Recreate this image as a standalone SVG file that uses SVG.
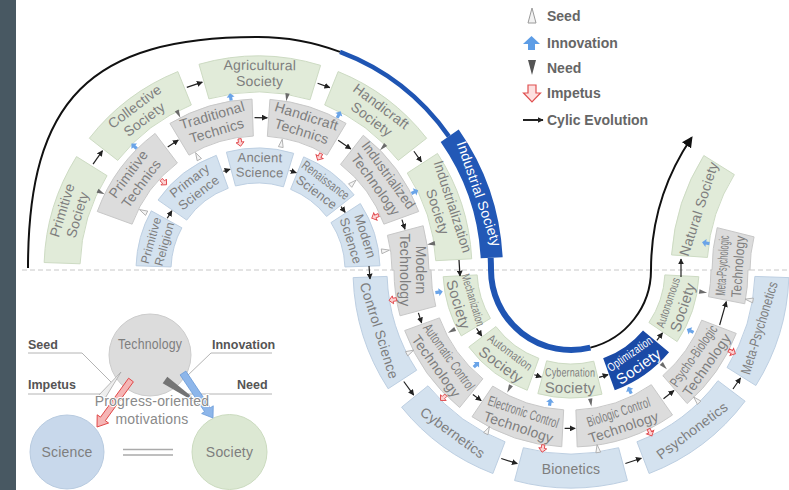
<svg xmlns="http://www.w3.org/2000/svg" width="789" height="490" viewBox="0 0 789 490">
<style>
.soc{fill:#e1ebd9;stroke:#cddbc3;stroke-width:1}
.tec{fill:#dcdcdc;stroke:#c8c8c8;stroke-width:1}
.sci{fill:#d4e2ef;stroke:#bdcfe2;stroke-width:1}
.t{font-family:"Liberation Sans",Arial,sans-serif;font-size:14px;fill:#7e7e7e;text-anchor:middle;letter-spacing:0.2px}
.s12{font-size:12px}
.s13{font-size:13px}
.s15{font-size:15px}
.w{fill:#ffffff}
.cy{fill:none;stroke:#222;stroke-width:1.2;marker-end:url(#ah)}
.lg{font-family:"Liberation Sans",Arial,sans-serif;font-size:14px;font-weight:bold;fill:#666}
.lb{font-family:"Liberation Sans",Arial,sans-serif;font-size:12.5px;font-weight:bold;fill:#555}
.ld{fill:none;stroke:#b4b4b4;stroke-width:1}
</style>
<defs>
<marker id="ah" viewBox="0 0 10 10" refX="9" refY="5" markerWidth="6" markerHeight="6" markerUnits="userSpaceOnUse" orient="auto"><path d="M0,0 L10,5 L0,10 Z" fill="#222"/></marker>
<marker id="ahb" viewBox="0 0 10 10" refX="8" refY="5" markerWidth="11" markerHeight="11" markerUnits="userSpaceOnUse" orient="auto"><path d="M0,0 L10,5 L0,10 Z" fill="#111"/></marker>
<path id="innov" d="M0,-4 L4,0 L1.6,0 L1.6,3.5 L-1.6,3.5 L-1.6,0 L-4,0 Z" fill="#6aa4e8"/>
<path id="imp" d="M0,4 L4,0 L1.6,0 L1.6,-3.5 L-1.6,-3.5 L-1.6,0 L-4,0 Z" fill="#fbd3d3" stroke="#e0474c" stroke-width="0.9"/>
<path id="need" d="M-2.2,-4 L2.2,-4 L0,4 Z" fill="#6b6b6b"/>
<path id="seed" d="M0,-4 L2.4,4 L-2.4,4 Z" fill="#f4f4f4" stroke="#a8a8a8" stroke-width="0.8"/>
</defs>
<rect width="789" height="490" fill="#ffffff"/>
<rect x="0" y="0" width="16" height="490" fill="#485862"/>
<line x1="22" y1="270" x2="789" y2="270" stroke="#c8c8c8" stroke-width="1" stroke-dasharray="5 3"/>

<!-- Society (upper) -->
<g id="primitive-society"><path class="soc" d="M44.13,262.53 A214,214 0 0 1 76.52,156.60 L107.05,175.67 A178,178 0 0 0 80.11,263.79 Z"/>
<g transform="translate(70.57,212.70) rotate(-73)"><text class="t" y="-4">Primitive</text><text class="t" y="12">Society</text></g></g>
<g id="collective-society"><path class="soc" d="M89.37,138.25 A214,214 0 0 1 177.83,71.58 L191.32,104.96 A178,178 0 0 0 117.73,160.41 Z"/>
<g transform="translate(140.04,113.47) rotate(-37)"><text class="t" y="-4">Collective</text><text class="t" y="12">Society</text></g></g>
<g id="agricultural-society"><path class="soc" d="M199.01,64.29 A214,214 0 0 1 320.57,65.35 L310.04,99.78 A178,178 0 0 0 208.94,98.90 Z"/>
<g transform="translate(259.71,74) rotate(0.5)"><text class="t" y="-4">Agricultural</text><text class="t" y="12">Society</text></g></g>
<g id="handicraft-society"><path class="soc" d="M338.17,71.58 A214,214 0 0 1 426.63,138.25 L398.27,160.41 A178,178 0 0 0 324.68,104.96 Z"/>
<g transform="translate(375.96,113.47) rotate(37)"><text class="t" y="-4">Handicraft</text><text class="t" y="12">Society</text></g></g>
<g id="industrialization-society"><path class="soc" d="M437.48,153.45 A214,214 0 0 1 471.71,258.80 L435.76,260.68 A178,178 0 0 0 407.28,173.05 Z"/>
<g transform="translate(444.41,209.43) rotate(72)"><text class="t" y="-4" textLength="96" lengthAdjust="spacingAndGlyphs">Industrialization</text><text class="t" y="12">Society</text></g></g>

<!-- Technics (upper) -->
<g id="primitive-technics"><path class="tec" d="M97.31,211.51 A171,171 0 0 1 155.09,133.43 L177.36,162.98 A134,134 0 0 0 132.08,224.17 Z"/>
<g transform="translate(135.41,179.29) rotate(-53.5)"><text class="t" y="-4">Primitive</text><text class="t" y="12">Technics</text></g></g>
<g id="traditional-technics"><path class="tec" d="M169.93,123.42 A171,171 0 0 1 252.03,99.10 L253.32,136.08 A134,134 0 0 0 188.99,155.14 Z"/>
<g transform="translate(214.69,123.78) rotate(-16.5)"><text class="t" y="-4">Traditional</text><text class="t" y="12">Technics</text></g></g>
<g id="handicraft-technics"><path class="tec" d="M269.93,99.42 A171,171 0 0 1 346.07,123.42 L327.01,155.14 A134,134 0 0 0 267.35,136.33 Z"/>
<g transform="translate(303.86,124.56) rotate(17.5)"><text class="t" y="-4">Handicraft</text><text class="t" y="12">Technics</text></g></g>
<g id="industrialized-technology"><path class="tec" d="M363.28,135.25 A171,171 0 0 1 418.69,211.51 L383.92,224.17 A134,134 0 0 0 340.50,164.41 Z"/>
<g transform="translate(381.38,180.36) rotate(54)"><text class="t" y="-4" textLength="80" lengthAdjust="spacingAndGlyphs">Industrialized</text><text class="t" y="12">Technology</text></g></g>
<g id="modern-technology"><path class="tec" d="M423.17,225.74 A171,171 0 0 1 429,270 L431,270 A140,140 0 0 0 435.77,306.23 L400.03,315.81 A177,177 0 0 1 394,270 L392,270 A134,134 0 0 0 387.43,235.32 Z"/>
<g transform="translate(411.5,270) rotate(90)"><text class="t" y="-4">Modern</text><text class="t" y="12">Technology</text></g></g>

<!-- Science (upper) -->
<g id="primitive-religion"><path class="sci" d="M136.07,265.74 A122,122 0 0 1 151.30,210.85 L181.91,227.82 A87,87 0 0 0 171.05,266.96 Z"/>
<g transform="translate(157.30,242.07) rotate(-74.5)"><text class="t s12" y="-2.5">Primitive</text><text class="t s12" y="11.5">Religion</text></g></g>
<g id="primary-science"><path class="sci" d="M158.06,200.02 A122,122 0 0 1 216.27,155.36 L228.24,188.25 A87,87 0 0 0 186.73,220.10 Z"/>
<g transform="translate(194.38,187.10) rotate(-37.5)"><text class="t s13" y="-3.5">Primary</text><text class="t s13" y="11.5">Science</text></g></g>
<g id="ancient-science"><path class="sci" d="M226.42,152.16 A122,122 0 0 1 293.67,153.33 L283.44,186.80 A87,87 0 0 0 235.48,185.96 Z"/>
<g transform="translate(259.82,165.52) rotate(1)"><text class="t s13" y="-3.5">Ancient</text><text class="t s13" y="11.5">Science</text></g></g>
<g id="renaissance-science"><path class="sci" d="M303.70,156.88 A122,122 0 0 1 354.14,194.89 L326.56,216.44 A87,87 0 0 0 290.59,189.34 Z"/>
<g transform="translate(320.89,186.54) rotate(37)"><text class="t s13" y="-3.5" textLength="56" lengthAdjust="spacingAndGlyphs">Renaissance</text><text class="t s13" y="11.5">Science</text></g></g>
<g id="modern-science"><path class="sci" d="M360.32,203.55 A122,122 0 0 1 379.93,265.74 L344.95,266.96 A87,87 0 0 0 330.96,222.62 Z"/>
<g transform="translate(357.66,238.58) rotate(72.5)"><text class="t s13" y="-3.5">Modern</text><text class="t s13" y="11.5">Science</text></g></g>

<!-- Industrial Society -->
<g id="industrial-society"><path d="M458.69,129.47 A245,245 0 0 1 502.66,257.18 L480.69,258.33 A223,223 0 0 0 440.67,142.09 Z" fill="#2258b6"/>
<g transform="translate(479.25,193.82) rotate(71)"><text class="t w" y="5">Industrial Society</text></g></g>

<!-- Science (lower) -->
<g id="control-science"><path class="sci" d="M353.13,277.61 A218,218 0 0 0 388.17,388.73 L416.68,370.21 A184,184 0 0 1 387.11,276.42 Z"/>
<g transform="translate(379.30,330.44) rotate(72.5)"><text class="t" y="5" textLength="100" lengthAdjust="spacingAndGlyphs">Control Science</text></g></g>
<g id="cybernetics"><path class="sci" d="M401.58,407.19 A218,218 0 0 0 492.88,473.52 L505.06,441.78 A184,184 0 0 1 428.00,385.79 Z"/>
<g transform="translate(452.85,432.61) rotate(36)"><text class="t" y="5">Cybernetics</text></g></g>
<g id="bionetics"><path class="sci" d="M514.58,480.57 A218,218 0 0 0 627.42,480.57 L618.62,447.73 A184,184 0 0 1 523.38,447.73 Z"/>
<g transform="translate(571,469)"><text class="t" y="5">Bionetics</text></g></g>
<g id="psychonetics"><path class="sci" d="M649.12,473.52 A218,218 0 0 0 745.10,401.20 L717.95,380.73 A184,184 0 0 1 636.94,441.78 Z"/>
<g transform="translate(691.97,430.53) rotate(-37)"><text class="t" y="5">Psychonetics</text></g></g>
<g id="meta-psychonetics"><path class="sci" d="M755.87,385.52 A218,218 0 0 0 788.87,277.61 L754.89,276.42 A184,184 0 0 1 727.04,367.51 Z"/>
<g transform="translate(759.5,328) rotate(-73)"><text class="t" y="4.5" textLength="96" lengthAdjust="spacingAndGlyphs">Meta-Psychonetics</text></g></g>

<!-- Technics (lower) -->
<g id="automatic-control-technology"><path class="tec" d="M404.67,330.54 A177,177 0 0 0 459.61,407.56 L482.90,378.80 A140,140 0 0 1 439.44,317.88 Z"/>
<g transform="translate(441.96,362.04) rotate(54.5)"><text class="t" y="-4" textLength="78" lengthAdjust="spacingAndGlyphs">Automatic Control</text><text class="t" y="12">Technology</text></g></g>
<g id="electronic-control-technology"><path class="tec" d="M472.02,416.74 A177,177 0 0 0 561.74,446.76 L563.67,409.81 A140,140 0 0 1 492.71,386.07 Z"/>
<g transform="translate(520.71,420.31) rotate(18.5)"><text class="t" y="-4" textLength="74" lengthAdjust="spacingAndGlyphs">Electronic Control</text><text class="t" y="12">Technology</text></g></g>
<g id="biologic-control-technology"><path class="tec" d="M577.18,446.89 A177,177 0 0 0 672.52,414.99 L651.30,384.68 A140,140 0 0 1 575.89,409.91 Z"/>
<g transform="translate(621.29,420.31) rotate(-18.5)"><text class="t" y="-4" textLength="66" lengthAdjust="spacingAndGlyphs">Biologic Control</text><text class="t" y="12">Technology</text></g></g>
<g id="psycho-biologic-technology"><path class="tec" d="M687.12,403.58 A177,177 0 0 0 736.24,333.43 L701.70,320.17 A140,140 0 0 1 662.85,375.66 Z"/>
<g transform="translate(700.84,360.91) rotate(-55)"><text class="t" y="-4" textLength="72" lengthAdjust="spacingAndGlyphs">Psycho-Biologic</text><text class="t" y="12">Technology</text></g></g>
<g id="meta-psychologic-technology"><path class="tec" d="M744.75,303.77 A177,177 0 0 0 748,270 L750,270 A137,137 0 0 1 754.07,236.86 L717.20,227.66 A175,175 0 0 0 712,270 L711,270 A140,140 0 0 1 708.43,296.71 Z"/>
<g transform="translate(731,266) rotate(-86)"><text class="t" y="-4" textLength="60" lengthAdjust="spacingAndGlyphs">Meta-Psychologic</text><text class="t" y="12" textLength="62" lengthAdjust="spacingAndGlyphs">Technology</text></g></g>

<!-- Society (lower) -->
<g id="mechanization-society"><path class="soc" d="M443.18,276.70 A128,128 0 0 0 461.28,335.93 L490.43,318.41 A94,94 0 0 1 477.13,274.92 Z"/>
<g transform="translate(464.85,302.45) rotate(73)"><text class="t s12" y="-4.5" textLength="54" lengthAdjust="spacingAndGlyphs">Mechanization</text><text class="t s15" y="12">Society</text></g></g>
<g id="automation-society"><path class="soc" d="M468.77,347.03 A128,128 0 0 0 527.22,390.28 L538.85,358.33 A94,94 0 0 1 495.93,326.57 Z"/>
<g transform="translate(504.97,359.23) rotate(36.5)"><text class="t s12" y="-4.5" textLength="52" lengthAdjust="spacingAndGlyphs">Automation</text><text class="t s15" y="12">Society</text></g></g>
<g id="cybernation-society"><path class="soc" d="M537.87,393.64 A128,128 0 0 0 601.97,394.20 L593.74,361.21 A94,94 0 0 1 546.67,360.80 Z"/>
<g transform="translate(570.03,381) rotate(0.5)"><text class="t s12" y="-4.5" textLength="50" lengthAdjust="spacingAndGlyphs">Cybernation</text><text class="t s15" y="12">Society</text></g></g>
<g id="optimization-society"><path d="M614.78,390.28 A128,128 0 0 0 669.05,352.28 L643.01,330.42 A94,94 0 0 1 603.15,358.33 Z" fill="#1a4aa6"/>
<g transform="translate(634.67,360.93) rotate(-35)"><text class="t s12 w" y="-4.5" textLength="52" lengthAdjust="spacingAndGlyphs">Optimization</text><text class="t s15 w" y="12">Society</text></g></g>
<g id="autonomous-society"><path class="soc" d="M677.12,341.58 A128,128 0 0 0 698.82,276.70 L664.87,274.92 A94,94 0 0 1 648.93,322.56 Z"/>
<g transform="translate(676.26,305.22) rotate(-71.5)"><text class="t s12" y="-4.5" textLength="52" lengthAdjust="spacingAndGlyphs">Autonomous</text><text class="t s15" y="12">Society</text></g></g>
<g id="natural-society"><path class="soc" d="M671.53,254.93 A216,216 0 0 1 703.82,155.54 L734.35,174.61 A180,180 0 0 0 707.44,257.44 Z"/>
<g transform="translate(698.69,208.81) rotate(-72)"><text class="t" y="5">Natural Society</text></g></g>

<!-- Connectors -->
<g id="connectors">
<path d="M28,268 C28,100 90,37 258,37 A233,233 0 0 1 340,51.9" fill="none" stroke="#111" stroke-width="2"/>
<path d="M340,51.9 A233,233 0 0 1 448.86,136.36" fill="none" stroke="#1f55b3" stroke-width="4.5"/>
<path d="M490.68,257.81 A233,233 0 0 1 491,270 A80,80 0 0 0 590.35,347.62" fill="none" stroke="#1f55b3" stroke-width="6"/>
<path d="M590.35,347.62 A80,80 0 0 0 651,270 A236,236 0 0 1 691.35,138.03" fill="none" stroke="#111" stroke-width="2" marker-end="url(#ahb)"/>
<line class="cy" x1="93.06" y1="164.11" x2="102.50" y2="150.68"/>
<line class="cy" x1="186.80" y1="87.39" x2="202.33" y2="82.07"/>
<line class="cy" x1="317.59" y1="83.28" x2="329.83" y2="87.64"/>
<line class="cy" x1="413.91" y1="151.23" x2="421.44" y2="161.82"/>
<line class="cy" x1="459" y1="260" x2="460" y2="276"/>
<line class="cy" x1="167.72" y1="147.10" x2="178.32" y2="139.97"/>
<line class="cy" x1="254.54" y1="117.54" x2="267.31" y2="117.79"/>
<line class="cy" x1="338.13" y1="140.25" x2="350.84" y2="149.01"/>
<line class="cy" x1="401.93" y1="219.60" x2="404.95" y2="229.25"/>
<line class="cy" x1="418.41" y1="312.89" x2="421.59" y2="322.91"/>
<line class="cy" x1="472.84" y1="394.44" x2="481.22" y2="400.62"/>
<line class="cy" x1="564.64" y1="428.37" x2="575.15" y2="428.45"/>
<line class="cy" x1="663.49" y1="398.71" x2="673.94" y2="390.53"/>
<line class="cy" x1="719.66" y1="324.99" x2="726.32" y2="301.60"/>
<line class="cy" x1="167.23" y1="218.22" x2="171.88" y2="210.81"/>
<line class="cy" x1="223.46" y1="171.37" x2="230.07" y2="169.30"/>
<line class="cy" x1="289.77" y1="170.45" x2="296.30" y2="172.77"/>
<line class="cy" x1="341.13" y1="206.67" x2="345.14" y2="212.32"/>
<line class="cy" x1="369" y1="266" x2="370" y2="279"/>
<line class="cy" x1="403.78" y1="381.52" x2="413.70" y2="395.12"/>
<line class="cy" x1="501.27" y1="458.52" x2="517.28" y2="463.69"/>
<line class="cy" x1="625.39" y1="463.50" x2="641.39" y2="458.27"/>
<line class="cy" x1="732.99" y1="388.99" x2="740.52" y2="378.00"/>
<line class="cy" x1="476.56" y1="328.33" x2="481.77" y2="336.03"/>
<line class="cy" x1="534.31" y1="374.76" x2="541.34" y2="376.96"/>
<line class="cy" x1="599.17" y1="377.37" x2="608.05" y2="374.63"/>
<line class="cy" x1="656.90" y1="340.31" x2="662.48" y2="332.87"/>
<line class="cy" x1="681" y1="277" x2="681" y2="259"/>
</g>

<!-- Motivation icons -->
<g id="motivations">
<use href="#need" transform="translate(101.11,192.46) rotate(-63.7)"/>
<use href="#innov" transform="translate(134.26,146.26) rotate(-45)"/>
<use href="#need" transform="translate(178.55,114.07) rotate(-27)"/>
<use href="#innov" transform="translate(230.62,97.15) rotate(-9)"/>
<use href="#need" transform="translate(286.88,97.40) rotate(9.5)"/>
<use href="#innov" transform="translate(338.81,114.77) rotate(27.5)"/>
<use href="#need" transform="translate(382.82,147.34) rotate(45.5)"/>
<use href="#innov" transform="translate(414.61,191.91) rotate(63.5)"/>
<use href="#need" transform="translate(431.03,243.83) rotate(81.4)"/>
<use href="#seed" transform="translate(143.06,211.44) rotate(-63)"/>
<use href="#imp" transform="translate(163.66,182.02) rotate(-47)"/>
<use href="#seed" transform="translate(197.44,156.10) rotate(-28)"/>
<use href="#imp" transform="translate(240.05,142.26) rotate(-8)"/>
<use href="#seed" transform="translate(281.51,143.16) rotate(10.5)"/>
<use href="#imp" transform="translate(319.55,156.63) rotate(28.5)"/>
<use href="#seed" transform="translate(353.11,182.85) rotate(47.5)"/>
<use href="#imp" transform="translate(375.38,216.50) rotate(65.5)"/>
<use href="#seed" transform="translate(385.55,250.71) rotate(81.4)"/>
<use href="#innov" transform="translate(438.84,292.12) rotate(80.5)"/>
<use href="#need" transform="translate(451.60,330.83) rotate(63)"/>
<use href="#innov" transform="translate(476.25,364.75) rotate(45)"/>
<use href="#need" transform="translate(509.13,388.86) rotate(27.5)"/>
<use href="#innov" transform="translate(550.04,402.35) rotate(9)"/>
<use href="#need" transform="translate(590.81,402.53) rotate(-8.5)"/>
<use href="#innov" transform="translate(629.74,390.44) rotate(-26)"/>
<use href="#need" transform="translate(664.08,366.39) rotate(-44)"/>
<use href="#innov" transform="translate(690.40,330.83) rotate(-63)"/>
<use href="#need" transform="translate(703.16,292.12) rotate(-80.5)"/>
<use href="#imp" transform="translate(392.97,299.79) rotate(80.5)"/>
<use href="#seed" transform="translate(410.17,351.95) rotate(63)"/>
<use href="#imp" transform="translate(443.37,397.63) rotate(45)"/>
<use href="#seed" transform="translate(487.65,430.11) rotate(27.5)"/>
<use href="#imp" transform="translate(542.76,448.28) rotate(9)"/>
<use href="#seed" transform="translate(597.68,448.52) rotate(-8.5)"/>
<use href="#imp" transform="translate(650.13,432.23) rotate(-26)"/>
<use href="#seed" transform="translate(696.39,399.84) rotate(-44)"/>
<use href="#imp" transform="translate(731.83,351.95) rotate(-63)"/>
<use href="#seed" transform="translate(749.03,299.79) rotate(-80.5)"/>
<use href="#innov" transform="translate(706,243) rotate(-81)"/>
</g>

<!-- Legend -->
<g id="legend">
<path d="M532,8 L536,23 L528,23 Z" fill="#f2f2f2" stroke="#9a9a9a" stroke-width="1"/>
<text class="lg" x="547" y="21">Seed</text>
<path d="M531.5,36 L540,44 L535,44 L535,50 L528,50 L528,44 L523,44 Z" fill="#5d9de6"/>
<text class="lg" x="547" y="48">Innovation</text>
<path d="M528,60 L536,60 L532,75 Z" fill="#555"/>
<text class="lg" x="547" y="73">Need</text>
<path d="M528,85 L536,85 L536,93 L540.5,93 L532,102 L523.5,93 L528,93 Z" fill="#fde0e0" stroke="#e05050" stroke-width="1.2"/>
<text class="lg" x="547" y="98">Impetus</text>
<line x1="523" y1="120" x2="543" y2="120" stroke="#222" stroke-width="2" marker-end="url(#ah)"/>
<text class="lg" x="547" y="125">Cylic Evolution</text>
</g>

<!-- Motivation scheme -->
<g id="technology-circle"><circle cx="150" cy="355" r="41" fill="#dcdcdc" stroke="#cccccc"/>
<text class="t" x="150" y="349" textLength="64" lengthAdjust="spacingAndGlyphs">Technology</text></g>
<g id="science-circle"><circle cx="67" cy="452" r="37" fill="#c8d8eb" stroke="#b8cbe0"/>
<text class="t" x="67" y="457">Science</text></g>
<g id="society-circle"><circle cx="229.5" cy="452" r="37.5" fill="#dce8d3" stroke="#cbdbbf"/>
<text class="t" x="229.5" y="457">Society</text></g>
<g id="scheme-links">
<line x1="123" y1="449.5" x2="173" y2="449.5" stroke="#aaa" stroke-width="1.5"/>
<line x1="123" y1="455" x2="173" y2="455" stroke="#aaa" stroke-width="1.5"/>
<path class="ld" d="M28,353 L82,353 L113,384"/>
<path class="ld" d="M28,394 L104,394"/>
<path class="ld" d="M272,353 L211,353 L186,377"/>
<path class="ld" d="M272,394 L188,394"/>
<path d="M121,372 L98,396 L104,400 Z" fill="#eeeeee" stroke="#a8a8a8" stroke-width="0.8"/>
<path d="M133.4,381.8 L105.3,420.7 L108.6,423 L97,427 L97.2,414.8 L100.5,417.1 L128.6,378.2 Z" fill="#f5b5b5" stroke="#e04848" stroke-width="1"/>
<path d="M162.7,383.3 L167.3,376.7 L207,409 Z" fill="#747474"/>
<path d="M185.9,371.1 L210.36,407.74 L213.27,405.8 L213,418 L201.63,413.57 L204.54,411.62 L180.1,374.9 Z" fill="#8db6ea" stroke="#6a9bd8" stroke-width="0.8"/>
</g>
<g id="scheme-labels">
<text class="lb" x="28" y="349">Seed</text>
<text class="lb" x="28" y="389">Impetus</text>
<text class="lb" x="212" y="349">Innovation</text>
<text class="lb" x="237" y="389">Need</text>
<text class="t" x="152" y="406" style="fill:#8a8a8a;stroke:#fff;stroke-width:2;paint-order:stroke">Progress-oriented</text>
<text class="t" x="152" y="424" style="fill:#8a8a8a;stroke:#fff;stroke-width:2;paint-order:stroke">motivations</text>
</g>
</svg>
